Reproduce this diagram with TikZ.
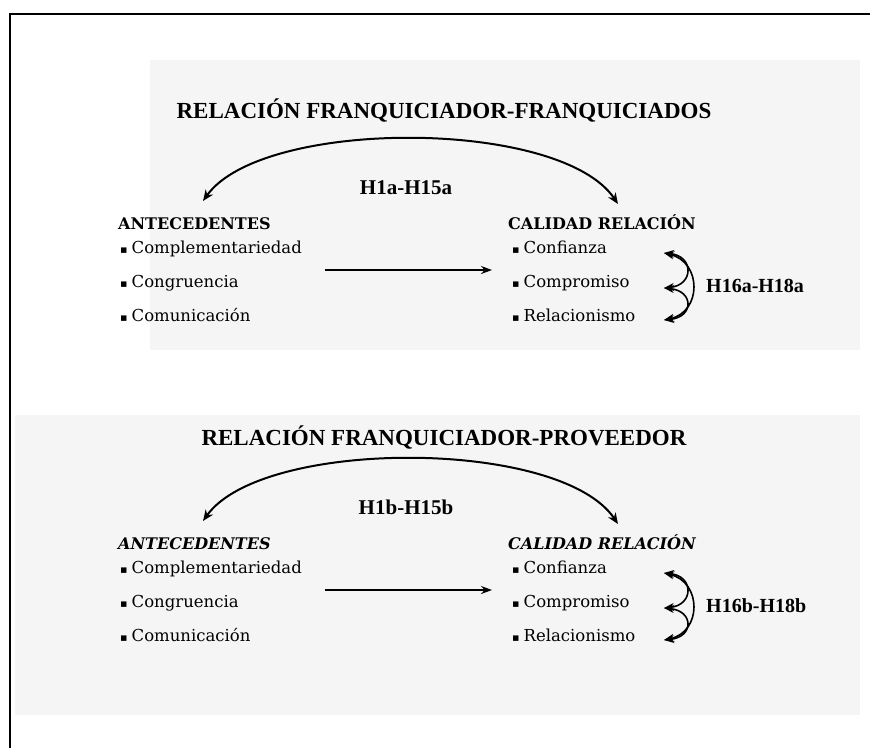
\documentclass[tikz,border=0pt]{standalone}
\usepackage{fontspec}
\setmainfont{DejaVu Serif}
\newfontfamily\titlefont{Liberation Serif}
\newfontfamily\symfont{DejaVu Sans}
\usetikzlibrary{arrows.meta}

% small square bullet in front of each list entry
\newcommand\sqbul{{\symfont\fontsize{11}{11}\selectfont ▪}\hspace{4pt}}

\begin{document}
\begin{tikzpicture}[x=1pt,y=-1pt,
  title/.style={font=\titlefont\bfseries\fontsize{23}{25}\selectfont, anchor=base, inner sep=0pt},
  hyp/.style={font=\titlefont\bfseries\fontsize{21}{23}\selectfont, anchor=base, inner sep=0pt},
  hypr/.style={font=\titlefont\bfseries\fontsize{20}{22}\selectfont, anchor=base west, inner sep=0pt},
  head/.style={font=\bfseries\fontsize{16}{18}\selectfont, anchor=base west, inner sep=0pt},
  headit/.style={font=\bfseries\itshape\fontsize{16}{18}\selectfont, anchor=base west, inner sep=0pt},
  item/.style={font=\fontsize{16.5}{18}\selectfont, anchor=base west, inner sep=0pt},
  bigarc/.style={line width=2pt, {Stealth[length=11pt,width=9pt]}-{Stealth[length=11pt,width=9pt]}},
  flow/.style={line width=2pt, -{Stealth[length=11pt,width=8pt]}},
  smallarc/.style={line width=1.6pt, {Stealth[length=10pt,width=8pt]}-{Stealth[length=10pt,width=8pt]}},
  panel/.style={fill=black!4, draw=none}
]
\useasboundingbox (0,0) rectangle (870,748);
\fill[white] (0,0) rectangle (870,748);

% light halftone panels behind each block
\path[panel] (150,60) rectangle (860,350);
\path[panel] (15,415) rectangle (860,715);

% frame (top and left edges)
\draw[line width=2.5pt] (10,748) -- (10,14) -- (870,14);

% ---------- franchisor - franchisees ----------
\node[title] (t1) at (444,118) {RELACIÓN FRANQUICIADOR-FRANQUICIADOS};

\node[head] (antA) at (118,229) {ANTECEDENTES};
\node[item] (a1) at (120,253) {\sqbul Complementariedad};
\node[item] (a2) at (120,287) {\sqbul Congruencia};
\node[item] (a3) at (120,321) {\sqbul Comunicación};

\node[head] (calA) at (508,229) {CALIDAD RELACIÓN};
\node[item] (c1) at (512,253) {\sqbul Confianza};
\node[item] (c2) at (512,287) {\sqbul Compromiso};
\node[item] (c3) at (512,321) {\sqbul Relacionismo};

\node[hyp] (h1) at (406,194) {H1a-H15a};
\node[hypr] (h2) at (706,292) {H16a-H18a};

\coordinate (lA) at (203,201);
\coordinate (rA) at (618,204);
\draw[bigarc] (lA) .. controls (262,118) and (560,118) .. (rA);

\coordinate (mA1) at (325,270);
\coordinate (mA2) at (492,270);
\draw[flow] (mA1) -- (mA2);

\coordinate (p1) at (664,253);
\coordinate (p2) at (664,288);
\coordinate (p3) at (664,320);
\draw[smallarc] (p1) .. controls (694,256) and (694,285) .. (p2);
\draw[smallarc] (p2) .. controls (694,291) and (694,317) .. (p3);
\draw[smallarc] (p1) .. controls (702,262) and (702,312) .. (p3);

% ---------- franchisor - supplier ----------
\node[title] (t2) at (444,445) {RELACIÓN FRANQUICIADOR-PROVEEDOR};

\node[headit] (antB) at (118,549) {ANTECEDENTES};
\node[item] (b1) at (120,573) {\sqbul Complementariedad};
\node[item] (b2) at (120,607) {\sqbul Congruencia};
\node[item] (b3) at (120,641) {\sqbul Comunicación};

\node[headit] (calB) at (508,549) {CALIDAD RELACIÓN};
\node[item] (d1) at (512,573) {\sqbul Confianza};
\node[item] (d2) at (512,607) {\sqbul Compromiso};
\node[item] (d3) at (512,641) {\sqbul Relacionismo};

\node[hyp] (h3) at (406,514) {H1b-H15b};
\node[hypr] (h4) at (706,612) {H16b-H18b};

\coordinate (lB) at (203,521);
\coordinate (rB) at (618,524);
\draw[bigarc] (lB) .. controls (262,438) and (560,438) .. (rB);

\coordinate (mB1) at (325,590);
\coordinate (mB2) at (492,590);
\draw[flow] (mB1) -- (mB2);

\coordinate (q1) at (664,573);
\coordinate (q2) at (664,608);
\coordinate (q3) at (664,640);
\draw[smallarc] (q1) .. controls (694,576) and (694,605) .. (q2);
\draw[smallarc] (q2) .. controls (694,611) and (694,637) .. (q3);
\draw[smallarc] (q1) .. controls (702,582) and (702,632) .. (q3);
\end{tikzpicture}
\end{document}
